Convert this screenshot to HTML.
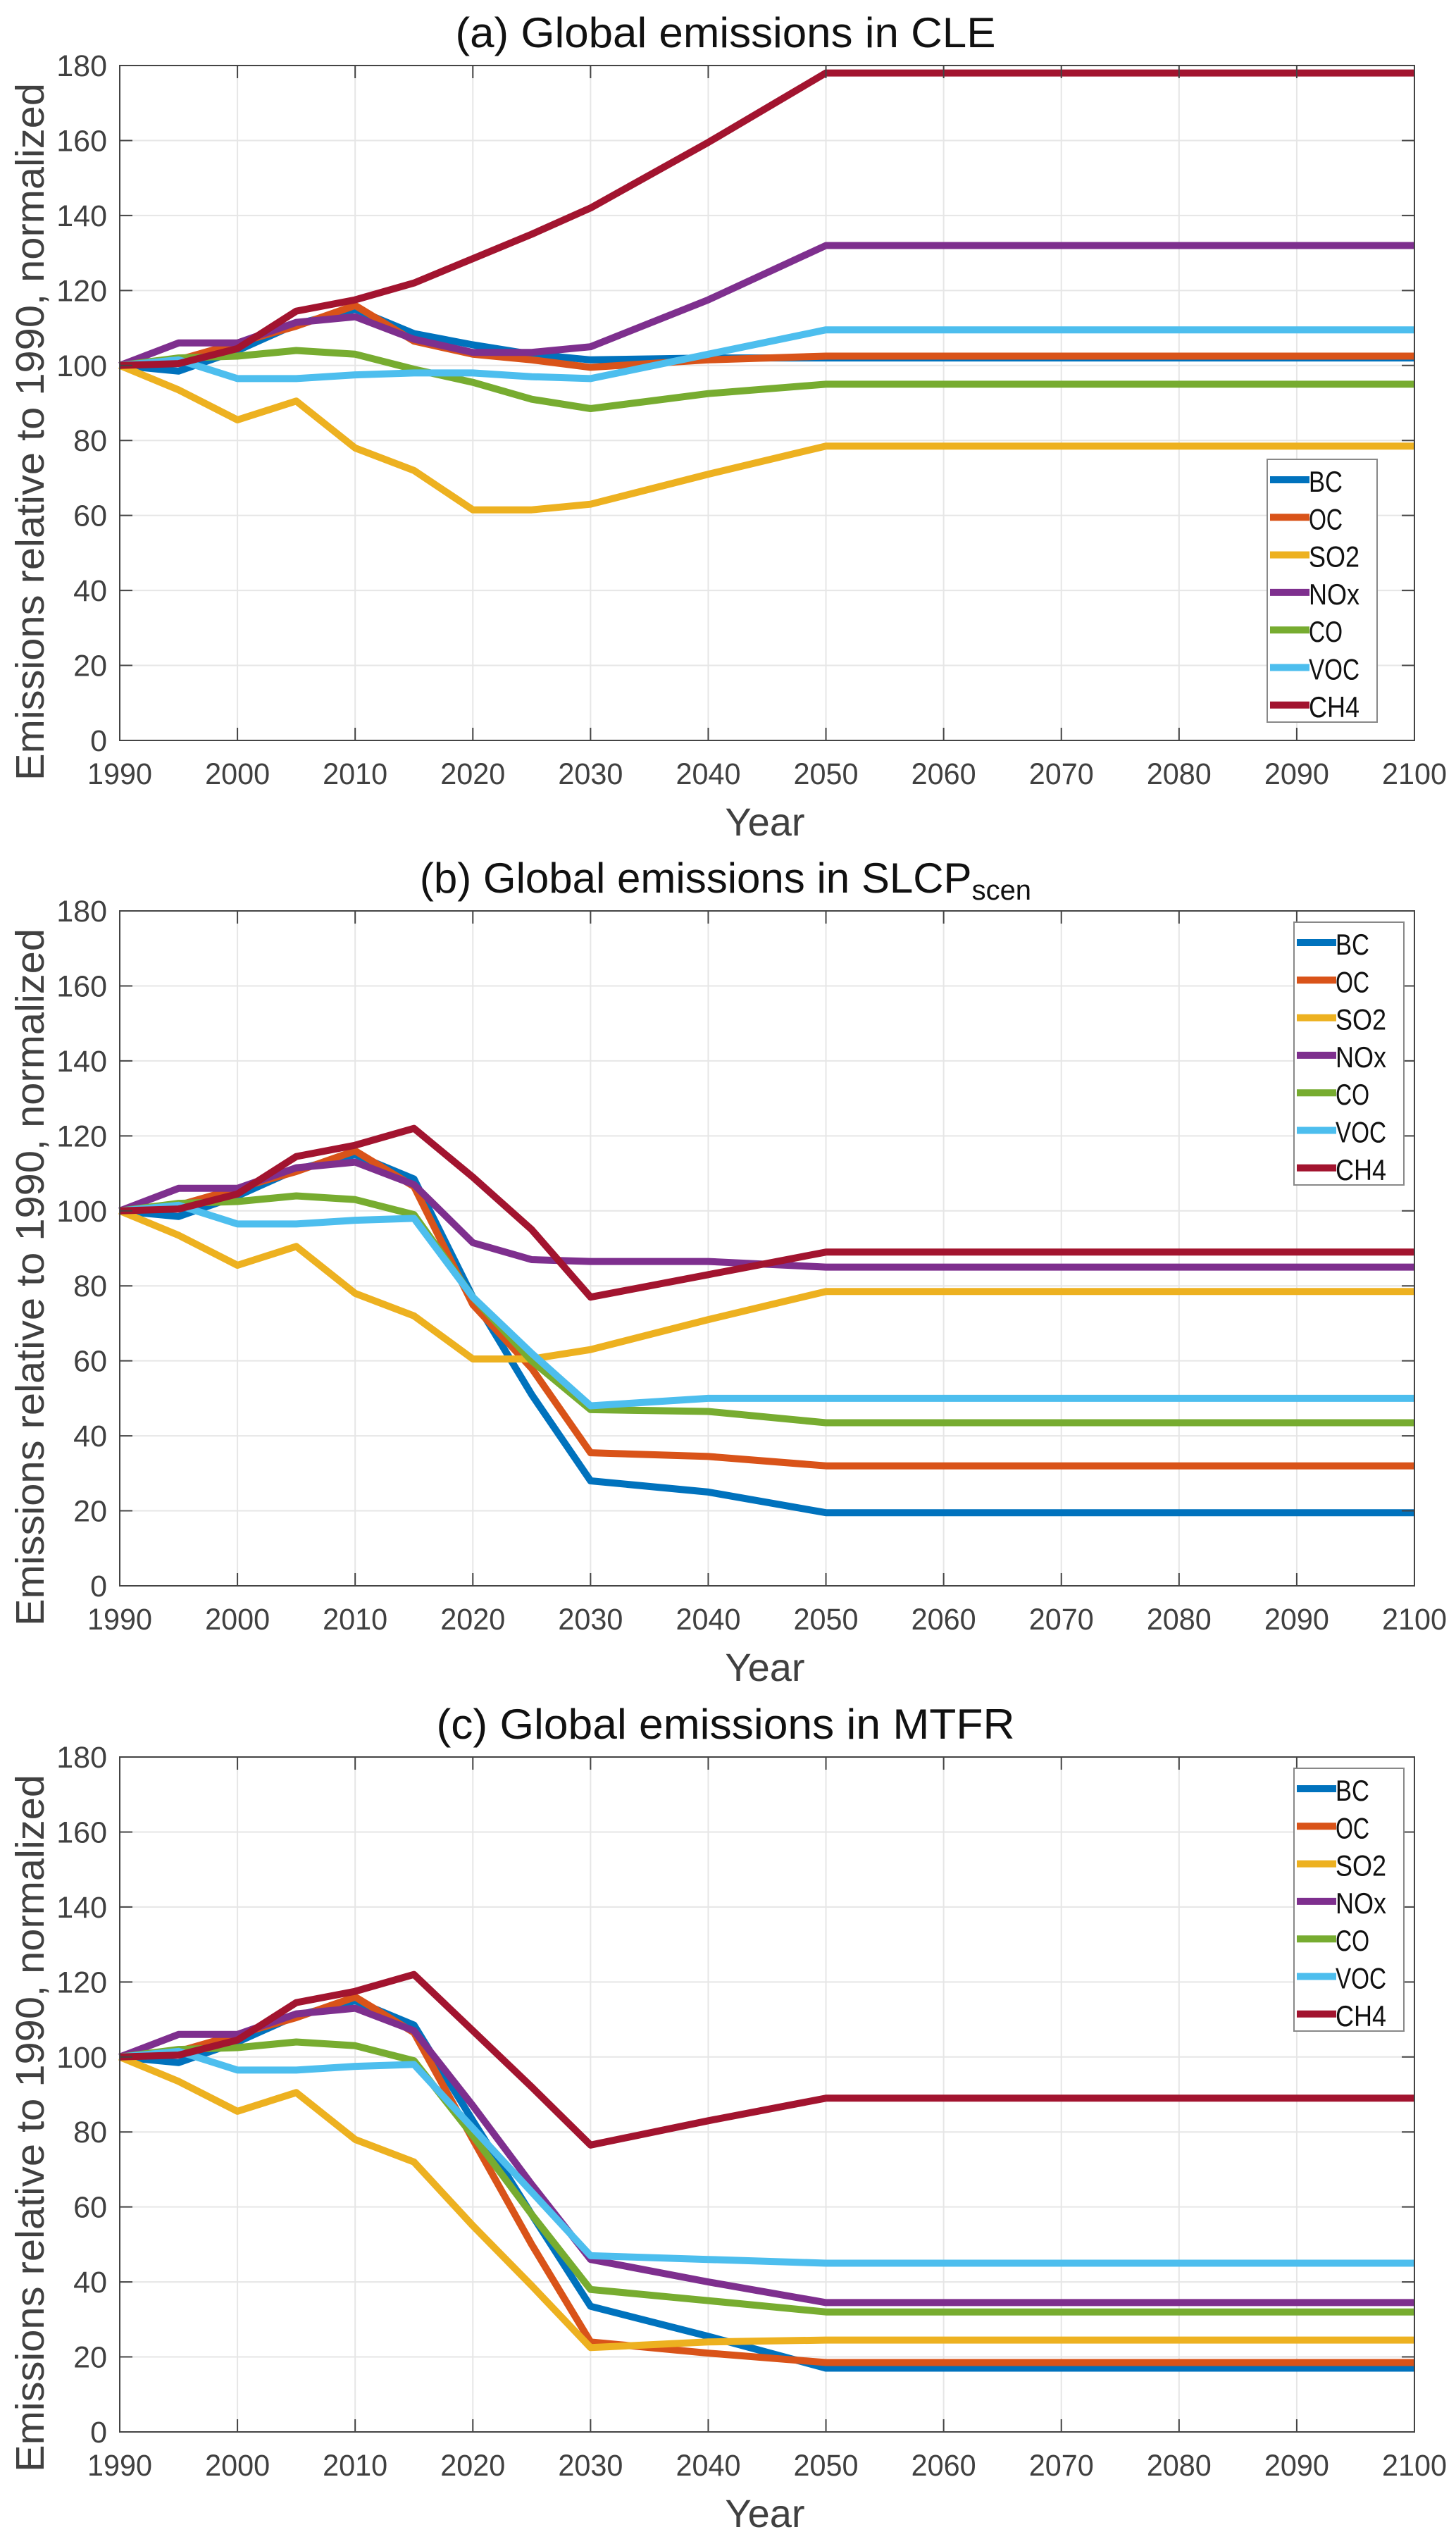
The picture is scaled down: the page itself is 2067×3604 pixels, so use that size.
<!DOCTYPE html>
<html><head><meta charset="utf-8"><style>
html,body{margin:0;padding:0;background:#fff;}
svg{display:block;}
text{font-family:"Liberation Sans",sans-serif;}
</style></head>
<body>
<svg id="fig" width="2067" height="3604" viewBox="0 0 2067 3604" xmlns="http://www.w3.org/2000/svg"></svg>
<script>
const years = [1990,1995,2000,2005,2010,2015,2020,2025,2030,2040,2050,2100];
const seriesNames = ["BC","OC","SO2","NOx","CO","VOC","CH4"];
const seriesColors = ["#0072BD","#D95319","#EDB120","#7E2F8E","#77AC30","#4DBEEE","#A2142F"];
const xTicks = [1990,2000,2010,2020,2030,2040,2050,2060,2070,2080,2090,2100];
const yTicks = [0,20,40,60,80,100,120,140,160,180];
const titles = ["(a) Global emissions in CLE","(b) Global emissions in SLCP","(c) Global emissions in MTFR"];

const cleBC  = [100,98.5,104,111,115,108.5,105.5,103,101.5,102,102,102];
const cleOC  = [100,101.5,106,110.5,116,106.5,103,101.5,99.5,101.5,102.5,102.5];
const cleSO2 = [100,93.5,85.5,90.5,78,72,61.5,61.5,63,71,78.5,78.5];
const cleNOx = [100,106,106,111.5,113,107,103.5,103.5,105,117.5,132,132];
const cleCO  = [100,102,102.5,104,103,99,95.5,91,88.5,92.5,95,95];
const cleVOC = [100,101.5,96.5,96.5,97.5,98,98,97,96.5,103,109.5,109.5];
const cleCH4 = [100,100.5,104.5,114.5,117.5,122,128.5,135,142,159.5,178,178];

const slcpBC  = [100,98.5,104,111,115,108.5,77,51,28,25,19.5,19.5];
const slcpOC  = [100,101.5,106,110.5,116,106.5,75,58,35.5,34.5,32,32];
const slcpSO2 = [100,93.5,85.5,90.5,78,72,60.5,60.5,63,71,78.5,78.5];
const slcpNOx = [100,106,106,111.5,113,107,91.5,87,86.5,86.5,85,85];
const slcpCO  = [100,102,102.5,104,103,99,77,60,47,46.5,43.5,43.5];
const slcpVOC = [100,101.5,96.5,96.5,97.5,98,77,62,48,50,50,50];
const slcpCH4 = [100,100.5,104.5,114.5,117.5,122,109,95,77,83,89,89];

const mtfrBC  = [100,98.5,104,111,115,108.5,83,58,33.5,25.5,17,17];
const mtfrOC  = [100,101.5,106,110.5,116,106.5,78,50,24,21,18.5,18.5];
const mtfrSO2 = [100,93.5,85.5,90.5,78,72,55,39,22.5,24,24.5,24.5];
const mtfrNOx = [100,106,106,111.5,113,107,87,66,46,40,34.5,34.5];
const mtfrCO  = [100,102,102.5,104,103,99,79,58,38,35,32,32];
const mtfrVOC = [100,101.5,96.5,96.5,97.5,98,81,64,47,46,45,45];
const mtfrCH4 = [100,100.5,104.5,114.5,117.5,122,107,92,76.5,83,89,89];

const panelData = [
  [cleBC,cleOC,cleSO2,cleNOx,cleCO,cleVOC,cleCH4],
  [slcpBC,slcpOC,slcpSO2,slcpNOx,slcpCO,slcpVOC,slcpCH4],
  [mtfrBC,mtfrOC,mtfrSO2,mtfrNOx,mtfrCO,mtfrVOC,mtfrCH4]
];

const NS = "http://www.w3.org/2000/svg";
const svg = document.getElementById("fig");
function mk(tag, attrs, parent){
  const e = document.createElementNS(NS, tag);
  for (const k in attrs) e.setAttribute(k, attrs[k]);
  (parent||svg).appendChild(e);
  return e;
}
const L = 170, R = 2008, PH = 958;
const panelTops = [93, 1293, 2494];
const legendBoxes = [[1799,652],[1837,1309],[1837,2510]];
const panelKeys = ["cle","slcp","mtfr"];
const titleWidths = [767, 780, 821];

panelTops.forEach((T, p) => {
  const B = T + PH;
  const xs = v => L + (v - 1990) / 110 * (R - L);
  const ys = v => B - v / 180 * PH;
  const g = mk("g", {});
  
  

  xTicks.forEach(t => { const l = mk("line",{x1:xs(t),x2:xs(t),y1:T,y2:B,stroke:"#e6e6e6","stroke-width":2},g);
      });
  yTicks.forEach(t => { const l = mk("line",{x1:L,x2:R,y1:ys(t),y2:ys(t),stroke:"#e6e6e6","stroke-width":2},g);
      });

  panelData[p].forEach((arr, i) => {
    const pts = arr.map((v, j) => xs(years[j]).toFixed(1) + "," + ys(v).toFixed(1)).join(" ");
    const pl = mk("polyline",{points:pts,fill:"none",stroke:seriesColors[i],"stroke-width":10,"stroke-linejoin":"round"},g);
    
    
  });

  const box = mk("rect",{x:L,y:T,width:R-L,height:PH,fill:"none",stroke:"#444","stroke-width":2},g);
   
  xTicks.forEach(t => {
    mk("line",{x1:xs(t),x2:xs(t),y1:B,y2:B-18,stroke:"#444","stroke-width":2},g);
    mk("line",{x1:xs(t),x2:xs(t),y1:T,y2:T+18,stroke:"#444","stroke-width":2},g);
    const tx = mk("text",{x:xs(t),y:B+62,"text-anchor":"middle","font-size":43,fill:"#404040",textLength:92,lengthAdjust:"spacingAndGlyphs"},g);
    tx.textContent = t;
     
  });
  yTicks.forEach(t => {
    mk("line",{x1:L,x2:L+18,y1:ys(t),y2:ys(t),stroke:"#444","stroke-width":2},g);
    mk("line",{x1:R,x2:R-18,y1:ys(t),y2:ys(t),stroke:"#444","stroke-width":2},g);
    const ty = mk("text",{x:152,y:ys(t)+15,"text-anchor":"end","font-size":43,fill:"#404040"},g);
    ty.textContent = t;
     
  });

  const tt = mk("text",{x:1030,y:T-26,"text-anchor":"middle","font-size":60,fill:"#111"},g);
  if (p === 1) {
    tt.textContent = titles[p];
    const sub = mk("tspan",{"font-size":40,dy:10},tt); sub.textContent = "scen";
  } else {
    tt.textContent = titles[p];
    tt.setAttribute("textLength", titleWidths[p]);
    tt.setAttribute("lengthAdjust", "spacingAndGlyphs");
  }
   

  const xl = mk("text",{x:1086,y:B+135,"text-anchor":"middle","font-size":56,fill:"#404040"},g);
  xl.textContent = "Year";
   
  const cy = T + 520;
  const yl = mk("text",{x:0,y:0,"text-anchor":"middle","font-size":57,fill:"#404040",
     transform:`translate(62,${cy}) rotate(-90)`,textLength:990,lengthAdjust:"spacingAndGlyphs"},g);
  yl.textContent = "Emissions relative to 1990, normalized";
   

  const [lx, ly] = legendBoxes[p];
  const lg = mk("g",{},g);
   
  mk("rect",{x:lx,y:ly,width:156,height:373,fill:"#fff",stroke:"#888","stroke-width":2},lg);
  seriesNames.forEach((n, i) => {
    const cyy = ly + 29 + i * 53.3;
    const e = mk("g",{},lg);
    
    
    mk("line",{x1:lx+4,x2:lx+60,y1:cyy,y2:cyy,stroke:seriesColors[i],"stroke-width":10},e);
    const lt = mk("text",{x:lx+59,y:cyy+17,"font-size":42,fill:"#111",textLength:n.length*24,lengthAdjust:"spacingAndGlyphs"},e);
    lt.textContent = n;
  });
});
</script>
</body></html>
